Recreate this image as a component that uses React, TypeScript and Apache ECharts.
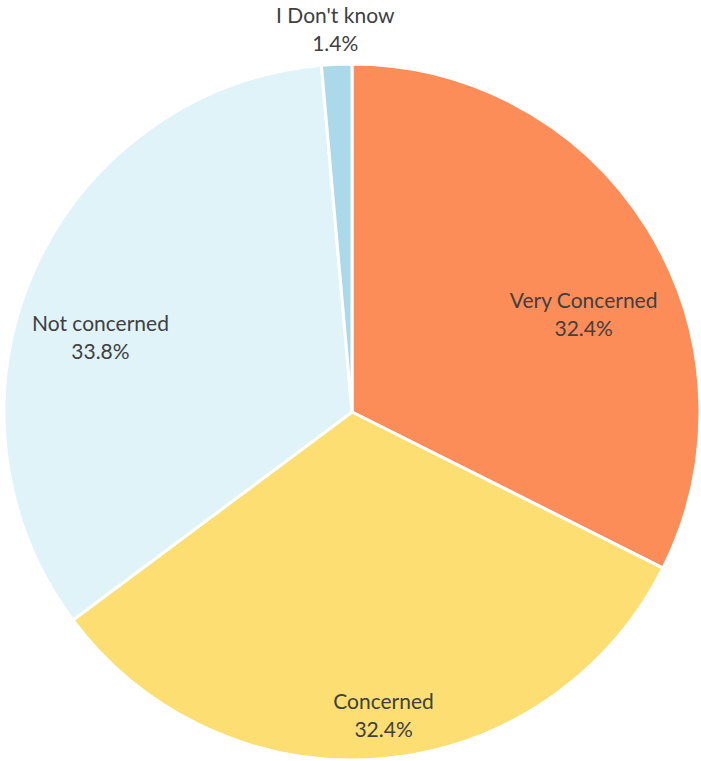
import React, { useEffect, useRef } from "react";
import * as echarts from "echarts";

const categories = ["Very Concerned", "Concerned", "Not concerned", "I Don't know"];
const values = [32.4, 32.4, 33.8, 1.4];
const colors = ["#FC8D59", "#FDDE72", "#E0F3F8", "#ABD9E9"];
// label nudges relative to the inside label position
const labelDx = [81, 16, -90, -9];
const labelDy = [-6, 126, -3, -207];

export default function App() {
  const ref = useRef<HTMLDivElement>(null);
  useEffect(() => {
    document.body.style.margin = "0";
    const chart = echarts.init(ref.current!, null, { renderer: "svg" });
    chart.setOption({
      animation: false,
      backgroundColor: "#ffffff",
      series: [
        {
          type: "pie",
          center: [352, 412],
          radius: [0, 348],
          startAngle: 90,
          clockwise: true,
          avoidLabelOverlap: false,
          itemStyle: { borderColor: "#ffffff", borderWidth: 3 },
          label: {
            show: true,
            position: "inside",
            formatter: (p: any) => `${p.name}\n${p.value.toFixed(1)}%`,
            color: "#404040",
            fontFamily: "Lato, 'Open Sans', sans-serif",
            fontSize: 21,
            lineHeight: 28,
            align: "center",
          },
          labelLine: { show: false },
          labelLayout: (params: any) => ({
            dx: labelDx[params.dataIndex],
            dy: labelDy[params.dataIndex],
          }),
          emphasis: { disabled: true },
          data: categories.map((c, i) => ({
            name: c,
            value: values[i],
            itemStyle: { color: colors[i] },
          })),
        },
      ],
    });
    return () => chart.dispose();
  }, []);
  return <div ref={ref} style={{ width: 701, height: 761 }} />;
}
